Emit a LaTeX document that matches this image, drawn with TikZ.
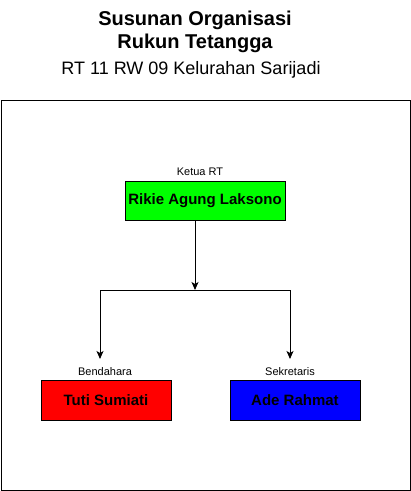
\documentclass[tikz,border=0pt]{standalone}
\usepackage{fontspec}
\setmainfont{Liberation Sans}
\usetikzlibrary{arrows.meta,positioning}
\definecolor{rtgreen}{RGB}{0,255,0}
\definecolor{rtred}{RGB}{255,0,0}
\definecolor{rtblue}{RGB}{0,0,255}

\begin{document}
\begin{tikzpicture}[x=1pt,y=-1pt,
  person/.style={draw,line width=1pt,minimum width=160pt,minimum height=39pt,inner sep=0pt,font=\fontsize{15}{18}\selectfont\bfseries},
  small/.style={draw,line width=1pt,minimum width=130pt,minimum height=40pt,inner sep=0pt,font=\fontsize{15}{18}\selectfont\bfseries},
  role/.style={font=\fontsize{11}{13}\selectfont,inner sep=0pt},
  link/.style={-{Stealth[width=7pt,length=8pt,inset=2pt]},line width=1pt}]
  \useasboundingbox (0,0) rectangle (411,491);
  % Title
  \node[font=\fontsize{20}{23}\selectfont\bfseries,align=center] (title) at (195,32) {Susunan Organisasi\\Rukun Tetangga};
  \node[font=\fontsize{18}{21}\selectfont] (place) at (191,70) {RT 11 RW 09 Kelurahan Sarijadi};
  % Frame
  \draw[line width=1pt] (1,100) rectangle (410,490);
  % Ketua
  \node[person,fill=rtgreen] (ketua) at (205,200.5) {Rikie Agung Laksono};
  \node[role] (ketualbl) at (200,172) {Ketua RT};
  % Bendahara and Sekretaris
  \node[small,fill=rtred] (bendahara) at (106,400) {Tuti Sumiati};
  \node[role] (bendlbl) at (105,372) {Bendahara};
  \node[small,fill=rtblue] (sekretaris) at (295,400) {Ade Rahmat};
  \node[role] (sekrlbl) at (290,372) {Sekretaris};
  % Connectors
  \coordinate (split) at (195,290);
  \coordinate (bendtip) at (100,359);
  \coordinate (sekrtip) at (290,359);
  \draw[link] (ketua.south -| split) -- (split);
  \draw[link] (split) -| (bendtip);
  \draw[link] (split) -| (sekrtip);
\end{tikzpicture}
\end{document}
